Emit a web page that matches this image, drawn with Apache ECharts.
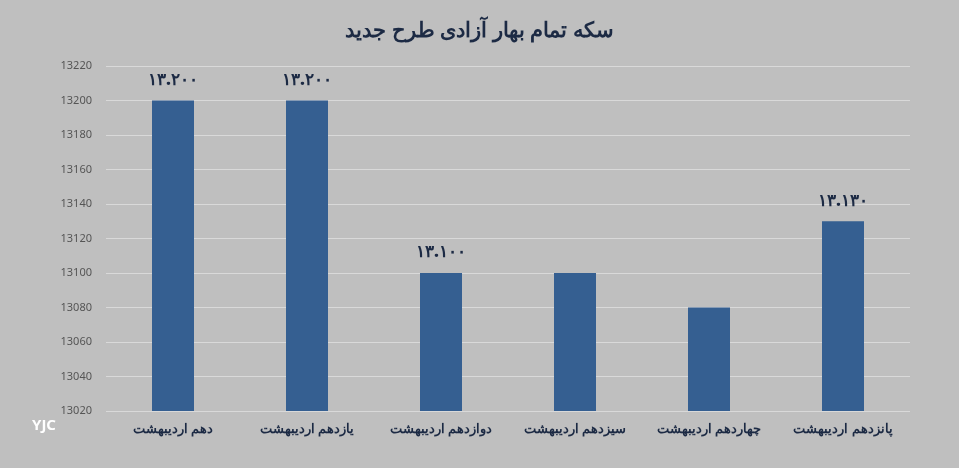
<!DOCTYPE html><html><head><meta charset="utf-8">
<script src="https://cdn.jsdelivr.net/npm/echarts@6/dist/echarts.min.js"></script>
<style>html,body{margin:0;background:#bfbfbf}#c{width:959px;height:468px}</style></head><body><div id="c"></div>
<script>
const categories=['دهم اردیبهشت','یازدهم اردیبهشت','دوازدهم اردیبهشت','سیزدهم اردیبهشت','چهاردهم اردیبهشت','پانزدهم اردیبهشت'];
const values=[13200,13200,13100,13100,13080,13130];
const labels=['۱۳.۲۰۰','۱۳.۲۰۰','۱۳.۱۰۰','','','۱۳.۱۳۰'];
const chart=echarts.init(document.getElementById('c'));
chart.setOption({
backgroundColor:'#bfbfbf',
title:{text:'سکه تمام بهار آزادی طرح جدید',left:'center',top:16,textStyle:{fontFamily:'Noto Sans',fontSize:21,fontWeight:900,color:'#1c2a44'}},
grid:{left:106,right:49,top:66,bottom:57},
xAxis:{type:'category',data:categories,axisLine:{show:false},axisTick:{show:false},
 axisLabel:{interval:0,fontFamily:'Noto Sans',fontWeight:'bold',fontSize:12.5,color:'#1c2a44',margin:12}},
yAxis:{type:'value',min:13020,max:13220,interval:20,axisLine:{show:false},axisTick:{show:false},
 axisLabel:{fontFamily:'Noto Sans',fontSize:11,color:'#555',margin:14,formatter:v=>String(v)},
 splitLine:{lineStyle:{color:'#d9d9d9',width:1}}},
series:[{type:'bar',data:values,barWidth:42,itemStyle:{color:'#355f91'},
 label:{show:true,position:'top',distance:12,formatter:p=>labels[p.dataIndex],fontFamily:'Noto Sans',fontWeight:900,fontSize:17,color:'#1c2a44'}}],
graphic:[{type:'text',left:32,top:418,style:{text:'YJC',fontFamily:'Noto Sans',fontWeight:'bold',fontSize:15,fill:'#fff'}}]
});
</script></body></html>
